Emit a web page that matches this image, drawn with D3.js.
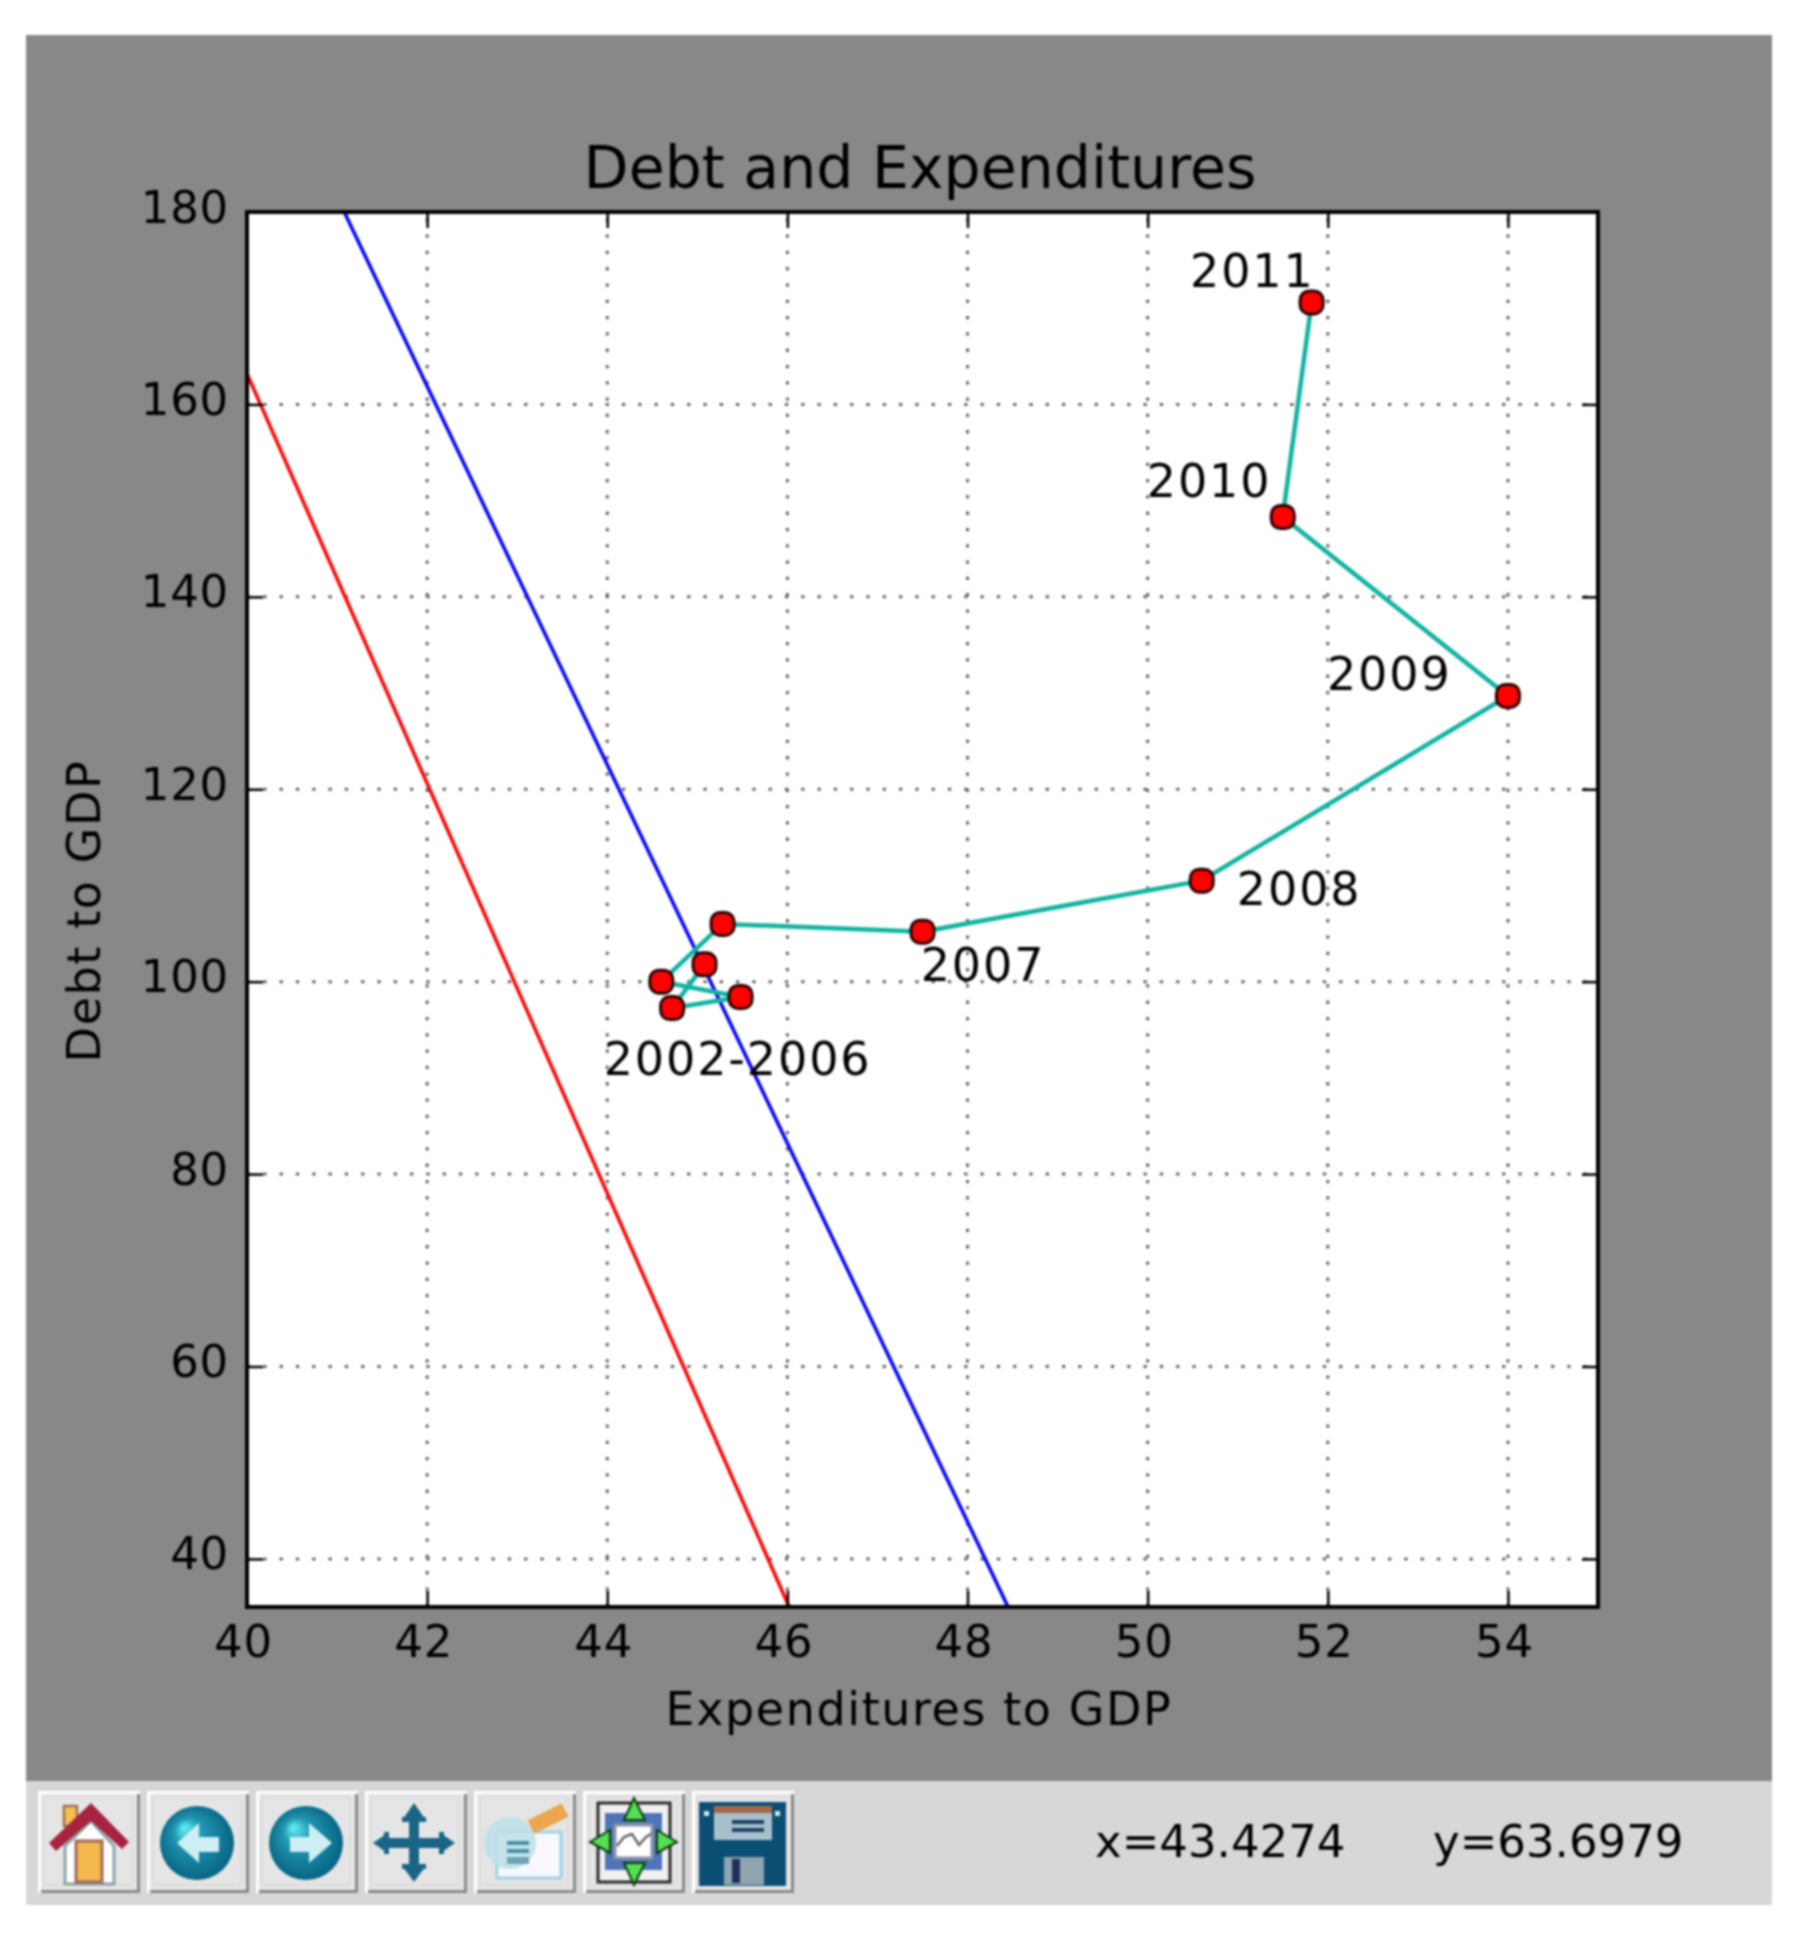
<!DOCTYPE html>
<html>
<head>
<meta charset="utf-8">
<script src="https://cdn.jsdelivr.net/npm/d3@7"></script>
<style>
  html, body { margin: 0; padding: 0; background: #fff; }
  svg { display: block; filter: blur(0.9px); }
  text { font-family: "DejaVu Sans", sans-serif; fill: #000; }
</style>
</head>
<body>
<div id="chart"></div>
<script>
// values
const debtExpX = [45.08, 44.72, 45.48, 44.6, 45.28, 47.5, 50.6, 54.0, 51.5, 51.82]
const debtExpY = [101.8, 97.25, 98.4, 100.0, 106.0, 105.2, 110.5, 129.7, 148.3, 170.6]
const blueLineX = [41.08, 48.45]
const blueLineY = [180, 35]
const redLineX = [40, 46.02]
const redLineY = [163.2, 35]
const labelNames = ['2011', '2010', '2009', '2008', '2007', '2002-2006']
const labelX = [50.47, 49.99, 51.99, 50.99, 47.48, 43.96]
const labelY = [172.2, 150.4, 130.35, 108, 100.05, 90.3]
const xTicks = [40, 42, 44, 46, 48, 50, 52, 54]
const yTicks = [40, 60, 80, 100, 120, 140, 160, 180]
const titleText = 'Debt and Expenditures'
const xTitle = 'Expenditures to GDP'
const yTitle = 'Debt to GDP'
const readoutX = 'x=43.4274'
const readoutY = 'y=63.6979'

const W = 1793, H = 1935
const plot = {left: 247, right: 1598, top: 212, bottom: 1607}

const svg = d3.select('#chart').append('svg').attr('width', W).attr('height', H)
const defs = svg.append('defs')

// window background and toolbar
svg.append('rect').attr('x', 26).attr('y', 35).attr('width', 1746).attr('height', 1746).attr('fill', '#888888')
svg.append('rect').attr('x', 26).attr('y', 1781).attr('width', 1746).attr('height', 124).attr('fill', '#d7d7d7')

const x = d3.scaleLinear().domain([40, 55]).range([plot.left, plot.right])
const y = d3.scaleLinear().domain([35, 180]).range([plot.bottom, plot.top])

svg.append('rect').attr('x', plot.left).attr('y', plot.top)
  .attr('width', plot.right - plot.left).attr('height', plot.bottom - plot.top).attr('fill', '#fff')

defs.append('clipPath').attr('id', 'plotClip').append('rect')
  .attr('x', plot.left).attr('y', plot.top)
  .attr('width', plot.right - plot.left).attr('height', plot.bottom - plot.top)

// grid
var grid = svg.append('g').attr('stroke', '#666').attr('stroke-width', 3).attr('stroke-dasharray', '3.3 13')
grid.selectAll('.gx').data(xTicks.filter(d => d > 40)).enter().append('line')
  .attr('x1', d => x(d)).attr('x2', d => x(d)).attr('y1', plot.bottom).attr('y2', plot.top)
grid.selectAll('.gy').data(yTicks.filter(d => d < 180)).enter().append('line')
  .attr('y1', d => y(d)).attr('y2', d => y(d)).attr('x1', plot.left).attr('x2', plot.right)

// lines
const line = d3.line().x(d => x(d[0])).y(d => y(d[1]))
const marks = svg.append('g').attr('clip-path', 'url(#plotClip)')
marks.append('path').attr('d', line(d3.zip(redLineX, redLineY))).attr('fill', 'none').attr('stroke', '#ff0000').attr('stroke-width', 3.5)
marks.append('path').attr('d', line(d3.zip(blueLineX, blueLineY))).attr('fill', 'none').attr('stroke', '#0000ff').attr('stroke-width', 3.5)
marks.append('path').attr('d', line(d3.zip(debtExpX, debtExpY))).attr('fill', 'none').attr('stroke', '#10b3a0').attr('stroke-width', 4.5)
// markers came out squarish in the original
const markerSize = 23
marks.selectAll('rect').data(d3.zip(debtExpX, debtExpY)).enter().append('rect')
  .attr('x', d => x(d[0]) - markerSize / 2).attr('y', d => y(d[1]) - markerSize / 2)
  .attr('width', markerSize).attr('height', markerSize).attr('rx', 9)
  .attr('fill', '#ff0000').attr('stroke', '#2a0000').attr('stroke-width', 3)

// year labels
svg.append('g').selectAll('text').data(labelNames).enter().append('text')
  .attr('x', (d, i) => x(labelX[i])).attr('y', (d, i) => y(labelY[i]))
  .attr('font-size', 46).attr('letter-spacing', 1.9).style('fill', '#000').text(d => d)

// axes, ticks point inwards on all four sides
function styleAxis(g) {
  g.select('.domain').remove()
  g.selectAll('.tick line').attr('stroke', '#000').attr('stroke-width', 2.5)
  g.selectAll('text').style('font-size', '45px').attr('letter-spacing', 0.8)
}
const tickLen = 16
svg.append('g').attr('transform', `translate(0,${plot.bottom})`)
  .call(d3.axisBottom(x).tickValues(xTicks).tickSize(-tickLen).tickPadding(0))
  .call(styleAxis).attr('font-family', null)
  .selectAll('text').attr('x', -4).attr('y', 50).attr('dy', 0)
svg.append('g').attr('transform', `translate(0,${plot.top})`)
  .call(d3.axisTop(x).tickValues(xTicks).tickSize(-tickLen).tickFormat(''))
  .call(styleAxis)
svg.append('g').attr('transform', `translate(${plot.left},0)`)
  .call(d3.axisLeft(y).tickValues(yTicks).tickSize(-tickLen))
  .call(styleAxis)
  .selectAll('text').attr('x', -18).attr('y', 0).attr('dy', 10)
svg.append('g').attr('transform', `translate(${plot.right},0)`)
  .call(d3.axisRight(y).tickValues(yTicks).tickSize(-tickLen).tickFormat(''))
  .call(styleAxis)

svg.append('rect').attr('x', plot.left).attr('y', plot.top)
  .attr('width', plot.right - plot.left).attr('height', plot.bottom - plot.top)
  .attr('fill', 'none').attr('stroke', '#000').attr('stroke-width', 4)

// titles
svg.append('text').attr('x', 920).attr('y', 188).attr('text-anchor', 'middle').attr('font-size', 58.5).text(titleText)
svg.append('text').attr('x', 919).attr('y', 1725).attr('text-anchor', 'middle').attr('font-size', 46).attr('letter-spacing', 1.6).text(xTitle)
svg.append('text').attr('transform', 'translate(100,911) rotate(-90)').attr('text-anchor', 'middle').attr('font-size', 46).attr('letter-spacing', 1.6).text(yTitle)

// toolbar readout
svg.append('text').attr('x', 1095).attr('y', 1857).attr('font-size', 45).text(readoutX)
svg.append('text').attr('x', 1433).attr('y', 1857).attr('font-size', 45).text(readoutY)

// toolbar buttons
const ballGrad = defs.append('radialGradient').attr('id', 'ball')
  .attr('cx', 0.5).attr('cy', 0.5).attr('r', 0.55).attr('fx', 0.32).attr('fy', 0.28)
ballGrad.append('stop').attr('offset', '0').attr('stop-color', '#62f2f6')
ballGrad.append('stop').attr('offset', '0.35').attr('stop-color', '#2196b2')
ballGrad.append('stop').attr('offset', '1').attr('stop-color', '#04607f')

function poly(g, pts, fill, stroke, sw) {
  return g.append('polygon').attr('points', pts).attr('fill', fill).attr('stroke', stroke || 'none').attr('stroke-width', sw || 0)
}
function box(g, bx, by, w, h, fill, stroke, sw) {
  return g.append('rect').attr('x', bx).attr('y', by).attr('width', w).attr('height', h)
    .attr('fill', fill).attr('stroke', stroke || 'none').attr('stroke-width', sw || 0)
}

const icons = [
  function home(g) {
    box(g, 26, 15, 13, 20, '#f3c04a', '#a0705a', 2.5)
    poly(g, '27,55 53,30 76,55 76,93 27,93', '#fff', '#8aa4a6', 3)
    box(g, 38, 50, 26, 41, '#f3b84e', '#a06a58', 3)
    poly(g, '53,12 91,51 84,58 53,30 18,60 11,52', '#a8233f')
  },
  function back(g) {
    g.append('circle').attr('cx', 50).attr('cy', 52).attr('r', 37).attr('fill', 'url(#ball)')
    poly(g, '30,52 52,32 52,46 72,46 72,61 52,61 52,72', '#cdeef2')
  },
  function forward(g) {
    g.append('circle').attr('cx', 50).attr('cy', 52).attr('r', 37).attr('fill', 'url(#ball)')
    poly(g, '76,52 53,32 53,46 34,46 34,61 53,61 53,72', '#cdeef2')
  },
  function pan(g) {
    const c = '#1a6586'
    box(g, 44, 20, 10, 64, c)
    box(g, 16, 47, 66, 10, c)
    box(g, 37, 26, 24, 5, c)
    box(g, 37, 73, 24, 5, c)
    box(g, 19, 41, 5, 22, c)
    box(g, 74, 41, 5, 22, c)
    poly(g, '49,12 60,28 38,28', c)
    poly(g, '49,91 60,76 38,76', c)
    poly(g, '8,52 24,41 24,63', c)
    poly(g, '90,52 74,41 74,63', c)
  },
  function edit(g) {
    box(g, 23, 41, 64, 46, '#f9f8ff', '#9cd4e0', 3)
    g.append('circle').attr('cx', 36).attr('cy', 52).attr('r', 26).attr('fill', '#bfe0e8').attr('opacity', 0.9)
    box(g, 33, 50, 22, 4, '#4a8fa8')
    box(g, 33, 58, 22, 4, '#4a8fa8')
    box(g, 33, 66, 22, 7, '#6ea4b6')
    g.append('line').attr('x1', 57).attr('y1', 36).attr('x2', 91).attr('y2', 19)
      .attr('stroke', '#eda550').attr('stroke-width', 15)
  },
  function subplots(g) {
    box(g, 15, 12, 72, 79, '#f0f0f0', '#2a2a2a', 3)
    box(g, 22, 22, 57, 57, '#4f74b8')
    box(g, 32, 34, 37, 33, '#fff', '#8a94a8', 3)
    g.append('polyline').attr('points', '34,55 41,46 49,43 56,54 63,46 68,43')
      .attr('fill', 'none').attr('stroke', '#666').attr('stroke-width', 2.5)
    const green = '#55dd55', dark = '#0a3a0a'
    poly(g, '51,7 62,29 41,29', green, dark, 2)
    poly(g, '51,94 62,72 41,72', green, dark, 2)
    poly(g, '7,51 27,39 27,62', green, dark, 2)
    poly(g, '94,51 74,39 74,62', green, dark, 2)
  },
  function save(g) {
    box(g, 7, 11, 87, 84, '#0b4f74')
    box(g, 22, 15, 58, 34, '#a9c0cc')
    box(g, 22, 15, 58, 7, '#a5684a')
    box(g, 40, 29, 32, 4, '#1b4468')
    box(g, 40, 37, 32, 4, '#1b4468')
    box(g, 32, 66, 40, 28, '#8fa5b0')
    box(g, 40, 68, 8, 24, '#1f2f58')
    box(g, 12, 20, 5, 5, '#d8e4ea')
    box(g, 83, 20, 5, 5, '#d8e4ea')
  }
]

const btnG = svg.append('g')
icons.forEach(function (draw, i) {
  const g = btnG.append('g').attr('transform', `translate(${38 + i * 109},1791)`)
  box(g, 0, 0, 102, 102, '#fff')
  box(g, 3, 3, 99, 99, '#8a8a8a')
  box(g, 3, 3, 96, 96, '#e5e5e5')
  box(g, 6, 6, 88, 88, 'none', '#dcdcdc', 2)
  draw(g)
})
</script>
</body>
</html>
